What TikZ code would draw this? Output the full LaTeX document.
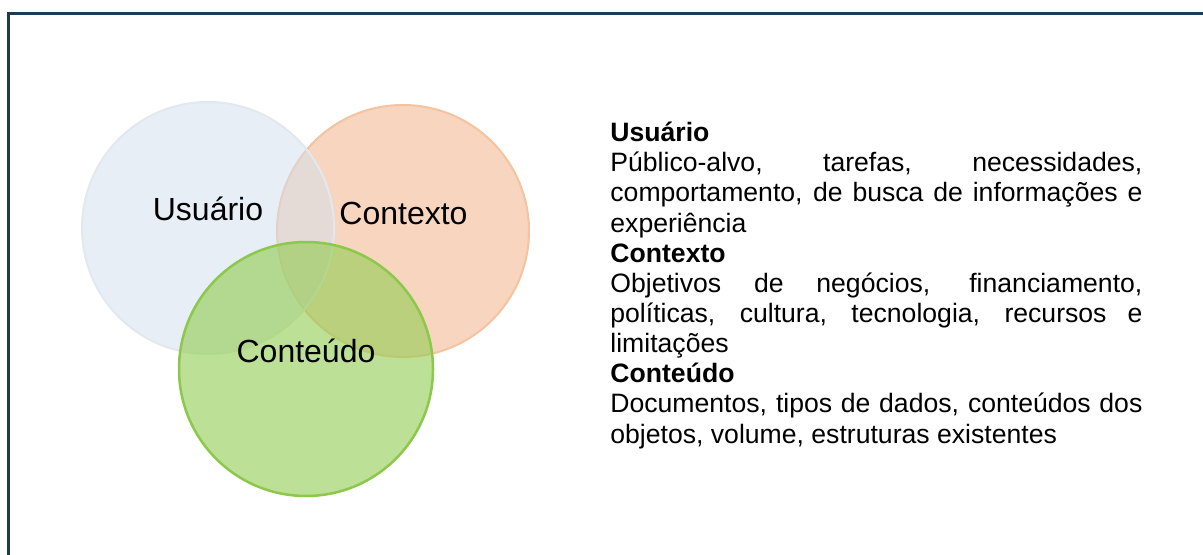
\documentclass[tikz,border=0pt]{standalone}
\usepackage{fontspec}
\setmainfont{Liberation Sans}
\definecolor{framecol}{HTML}{1F3A56}
\definecolor{ctxfill}{HTML}{F8D5BE}
\definecolor{ctxline}{HTML}{F4C3A0}
\definecolor{usrbase}{HTML}{D1DFEF}
\definecolor{usrline}{HTML}{E3E8EE}
\definecolor{cntbase}{HTML}{94CD54}
\definecolor{cntline}{HTML}{8CC84B}
\begin{document}
\begin{tikzpicture}[x=0.5pt,y=-0.5pt,
  frameline/.style={draw=framecol, line width=1.5pt},
  venn/.style={circle, inner sep=0pt, outer sep=0pt},
  biglabel/.style={inner sep=0pt, anchor=base, font=\fontsize{16}{19}\selectfont},
  desc/.style={inner sep=0pt, anchor=base west, text width=266pt, align=justify,
    font=\fontsize{13.3}{15.07}\selectfont}]
\useasboundingbox (0,0) rectangle (1203,555);
\fill[white] (0,0) rectangle (1203,555);
\coordinate (fbl) at (8,560);
\coordinate (ftl) at (8,14);
\coordinate (ftr) at (1210,14);
\draw[frameline] (fbl) -- (ftl) -- (ftr);
\node[venn, minimum size=126pt, fill=ctxfill, draw=ctxline, line width=1pt] (ctx) at (403,231) {};
\node[venn, minimum size=126pt, fill=usrbase, fill opacity=0.5, draw=usrline, line width=1pt] (usr) at (208,228) {};
\node[venn, minimum size=127pt, fill=cntbase, fill opacity=0.62, draw=cntline, draw opacity=1, line width=1.25pt] (cnt) at (306,369) {};
\node[biglabel] (usrlabel) at (208,221) {Usuário};
\node[biglabel] (ctxlabel) at (403.5,224.3) {Contexto};
\node[biglabel] (cntlabel) at (306,362.7) {Conteúdo};
\node[desc] (desc) at (610,141.7) {\tolerance=10000\hbadness=10000\hyphenpenalty=10000\parindent=0pt\parskip=0pt
{\bfseries Usuário}\par
Público-alvo, tarefas, necessidades,\linebreak comportamento, de busca de informações e\linebreak experiência\par
{\bfseries Contexto}\par
Objetivos de negócios, financiamento,\linebreak políticas, cultura, tecnologia, recursos e\linebreak limitações\par
{\bfseries Conteúdo}\par
Documentos, tipos de dados, conteúdos dos\linebreak objetos, volume, estruturas existentes\par};
\end{tikzpicture}
\end{document}
